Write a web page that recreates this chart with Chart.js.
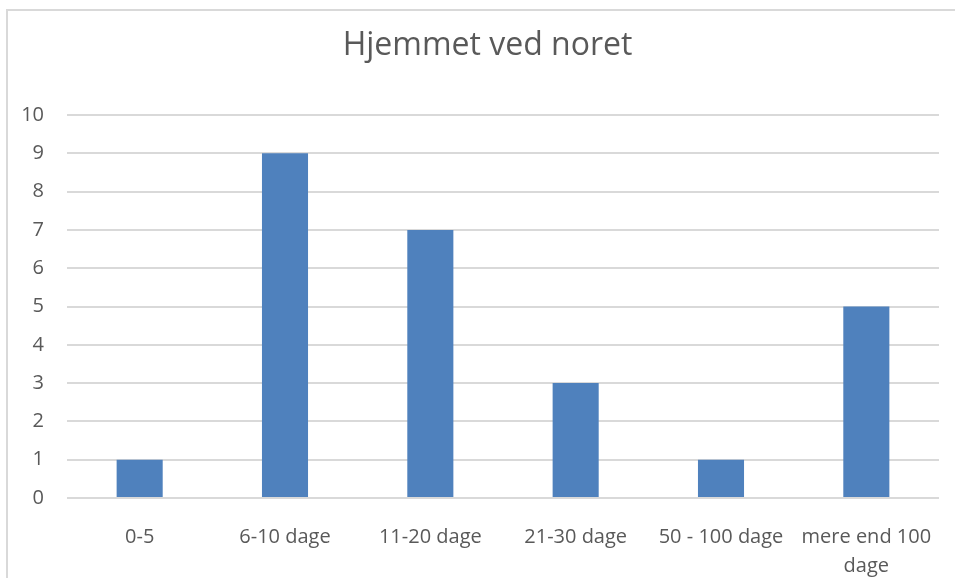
<!DOCTYPE html>
<html>
<head>
<meta charset="utf-8">
<script src="https://cdn.jsdelivr.net/npm/chart.js@4/dist/chart.umd.min.js"></script>
<style>
  html, body { margin: 0; padding: 0; background: #fff; overflow: hidden; }
  #frame {
    position: absolute; left: 6px; top: 9px; width: 1000px; height: 600px;
    border-left: 2px solid #d9d9d9; border-top: 2px solid #d9d9d9;
  }
  #wrap { position: absolute; left: 0; top: 0; width: 955px; height: 578px; }
</style>
</head>
<body>
<div id="frame"></div>
<div id="wrap"><canvas id="chart"></canvas></div>
<script>
  const categories = ["0-5", "6-10 dage", "11-20 dage", "21-30 dage", "50 - 100 dage", ["mere end 100", "dage"]];
  const values = [1, 9, 7, 3, 1, 5];
  const yTicks = [0, 1, 2, 3, 4, 5, 6, 7, 8, 9, 10];

  const TEXT = "#595959";
  const GRID = "#d9d9d9";
  const BAR = "#4f81bd";
  const FONT = "'Open Sans', 'Liberation Sans', sans-serif";

  // nudge the title box so the text is centred like the original
  const titleShift = {
    id: "titleShift",
    afterLayout(chart) {
      if (chart.titleBlock) chart.titleBlock.left = 36;
    },
  };

  new Chart(document.getElementById("chart"), {
    type: "bar",
    data: {
      labels: categories,
      datasets: [{
        data: values,
        backgroundColor: BAR,
        borderWidth: 0,
        categoryPercentage: 1.0,
        barPercentage: 0.317,
      }],
    },
    options: {
      responsive: true,
      maintainAspectRatio: false,
      animation: false,
      layout: { padding: { left: 10, right: 16, top: 0, bottom: 0 } },
      plugins: {
        legend: { display: false },
        tooltip: { enabled: false },
        title: {
          display: true,
          text: "Hjemmet ved noret",
          color: TEXT,
          font: { family: FONT, size: 32, weight: "normal" },
          padding: { top: 27, bottom: 49.6 },
        },
      },
      scales: {
        x: {
          grid: { display: false },
          border: { display: false },
          ticks: {
            color: TEXT,
            font: { family: FONT, size: 20, lineHeight: 1.45 },
            padding: 17,
            maxRotation: 0,
            autoSkip: false,
          },
          afterFit: (s) => { s.height = 80; },
        },
        y: {
          min: 0,
          max: 10,
          afterBuildTicks: (s) => { s.ticks = yTicks.map((v) => ({ value: v })); },
          grid: { color: GRID, lineWidth: 2, drawTicks: false },
          border: { display: false },
          ticks: {
            color: TEXT,
            font: { family: FONT, size: 20 },
            padding: 23,
          },
          afterFit: (s) => { s.width = 57; },
        },
      },
    },
    plugins: [titleShift],
  });
</script>
</body>
</html>
